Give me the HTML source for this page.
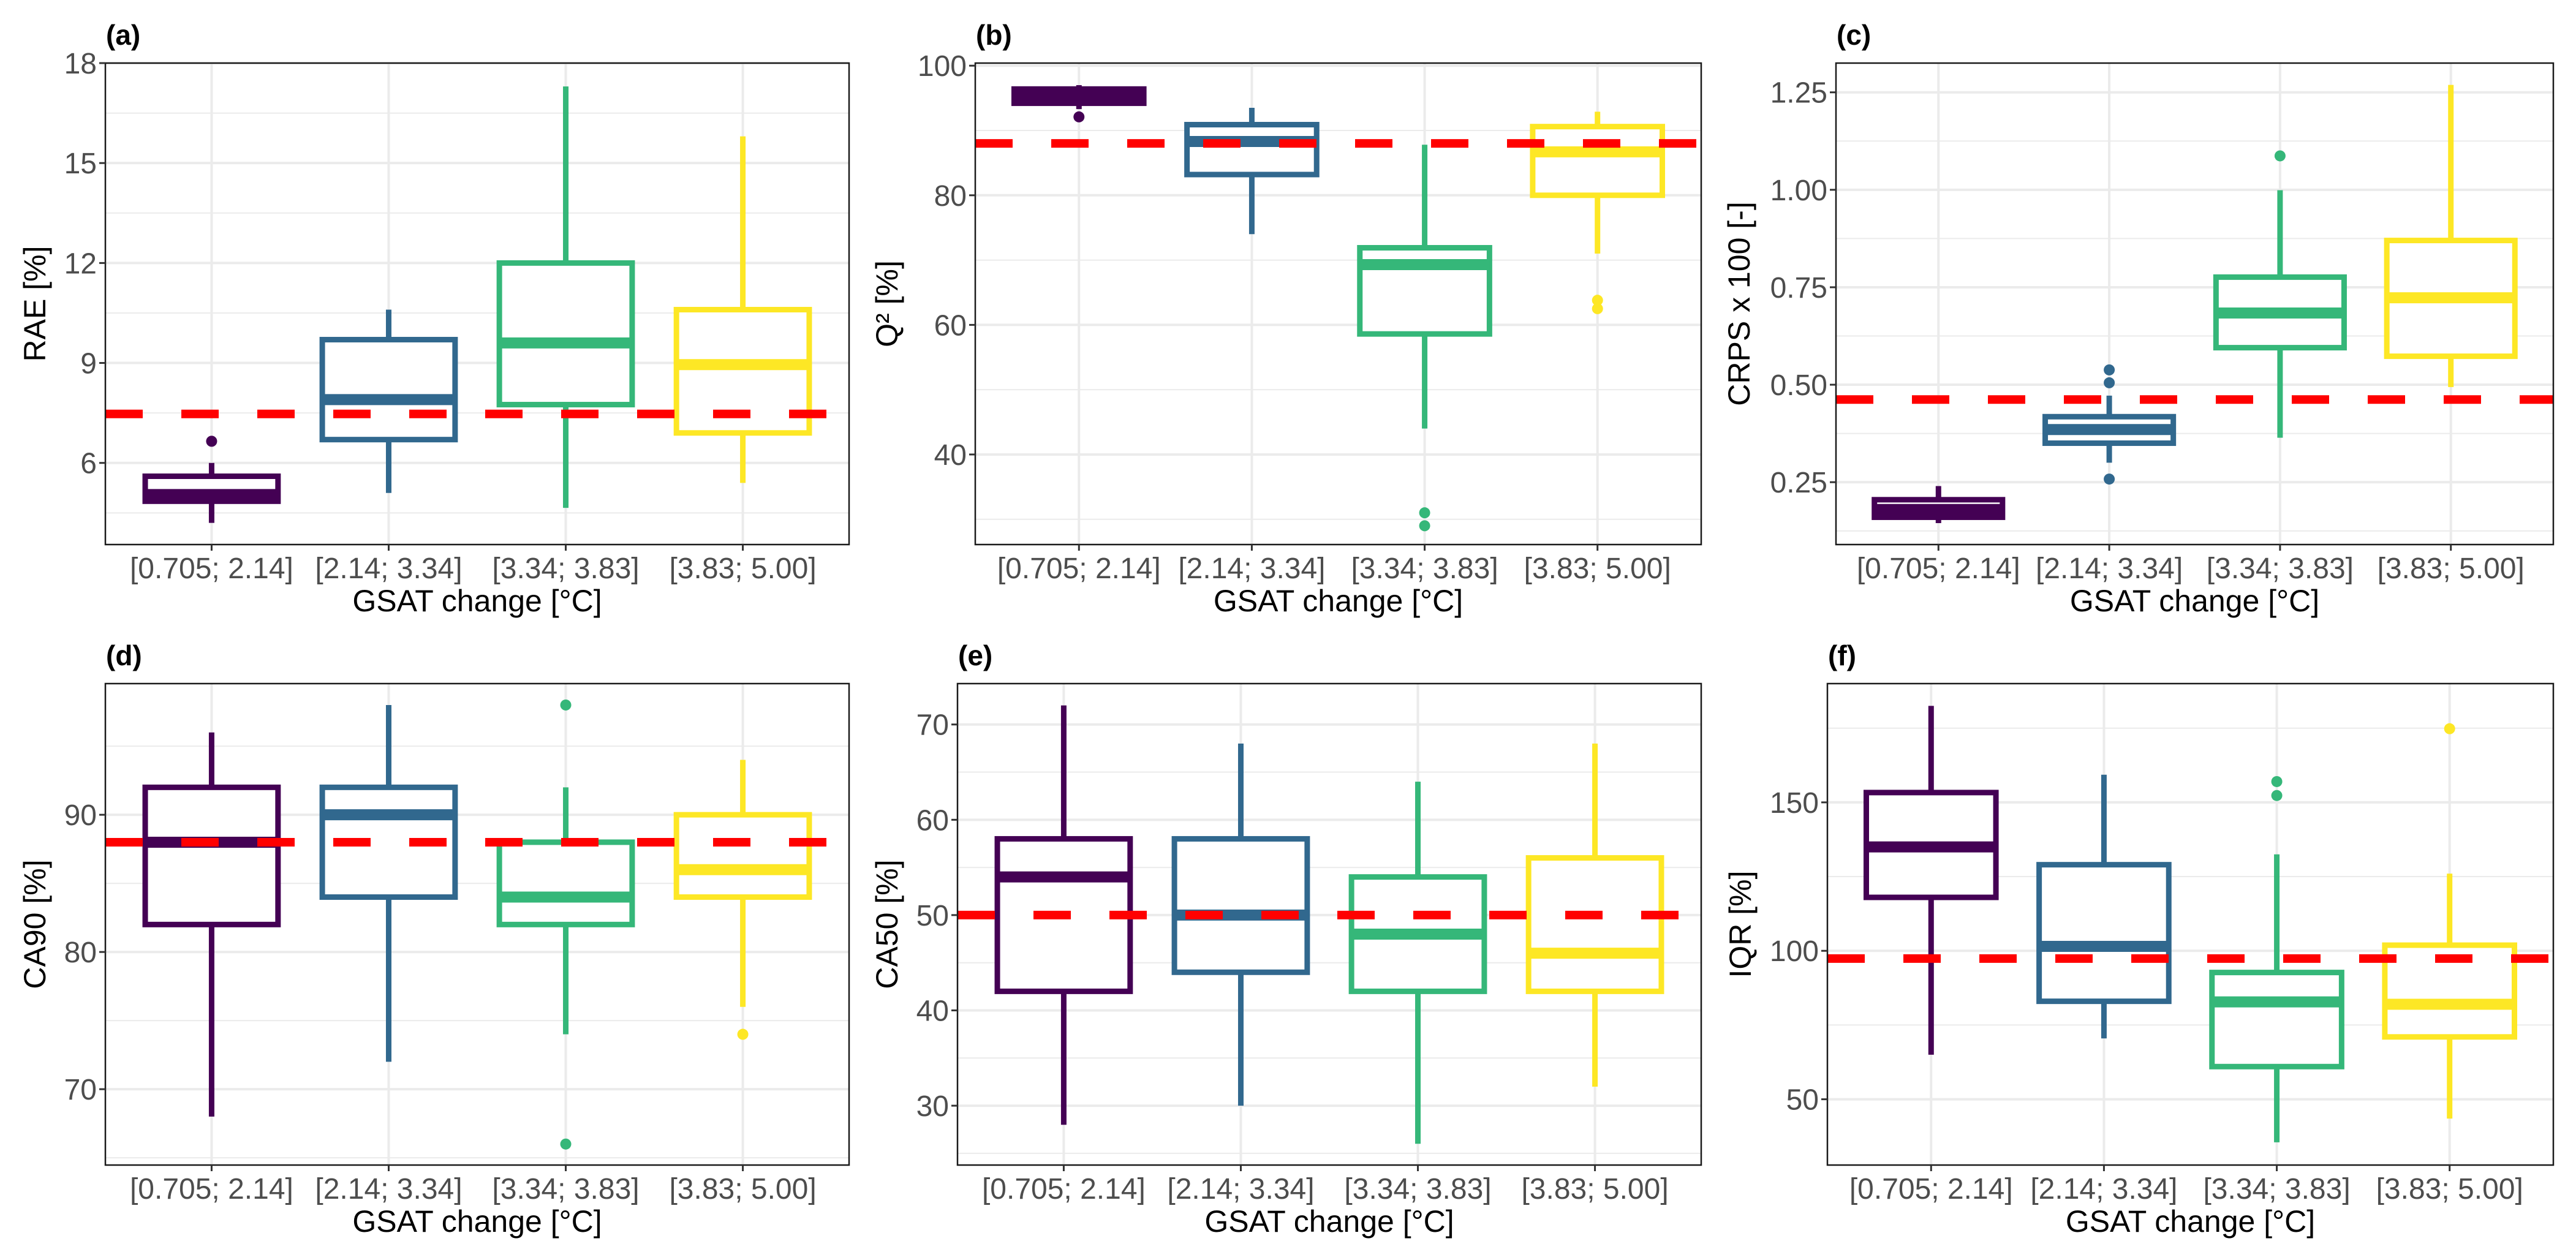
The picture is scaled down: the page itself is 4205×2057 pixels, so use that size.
<!DOCTYPE html>
<html><head><meta charset="utf-8"><style>
html,body{margin:0;padding:0;background:#fff;}
svg{display:block;font-family:"Liberation Sans",sans-serif;}
</style></head><body>
<svg id="fig" width="4205" height="2057" viewBox="0 0 4205 2057" xmlns="http://www.w3.org/2000/svg"></svg>
<script>
const categories = ["[0.705; 2.14]", "[2.14; 3.34]", "[3.34; 3.83]", "[3.83; 5.00]"];
const colors = ["#440154", "#31688E", "#35B779", "#FDE725"];

// Panel a: RAE
const aLow = [4.2, 5.1, 4.65, 5.4];
const aQ1 = [4.85, 6.7, 7.75, 6.9];
const aMed = [5.05, 7.9, 9.6, 8.95];
const aQ3 = [5.6, 9.7, 12.0, 10.6];
const aHigh = [6.0, 10.6, 17.3, 15.8];
const aOut = [[6.65], [], [], []];
const aRef = 7.47;
const aTicks = [6, 9, 12, 15, 18];
const aDomain = [3.55, 18.0];

// Panel b: Q2
const bLow = [93.3, 74, 44, 71];
const bQ1 = [94.2, 83.2, 58.6, 80];
const bMed = [95.4, 88.3, 69.3, 86.7];
const bQ3 = [96.4, 90.9, 71.9, 90.6];
const bHigh = [97, 93.5, 87.8, 92.9];
const bOut = [[92.1], [], [31.0, 29.0], [63.8, 62.5]];
const bRef = 88;
const bTicks = [40, 60, 80, 100];
const bDomain = [26.1, 100.4];

// Panel c: CRPS
const cLow = [0.145, 0.30, 0.364, 0.494];
const cQ1 = [0.16, 0.35, 0.595, 0.573];
const cMed = [0.18, 0.385, 0.684, 0.723];
const cQ3 = [0.205, 0.418, 0.776, 0.87];
const cHigh = [0.24, 0.472, 0.999, 1.269];
const cOut = [[], [0.538, 0.505, 0.258], [1.087], []];
const cRef = 0.462;
const cTicks = [0.25, 0.5, 0.75, 1.0, 1.25];
const cTickLabels = ["0.25", "0.50", "0.75", "1.00", "1.25"];
const cDomain = [0.09, 1.325];

// Panel d: CA90
const dLow = [68, 72, 74, 76];
const dQ1 = [82, 84, 82, 84];
const dMed = [88, 90, 84, 86];
const dQ3 = [92, 92, 88, 90];
const dHigh = [96, 98, 92, 94];
const dOut = [[], [], [98, 66], [74]];
const dRef = 88;
const dTicks = [70, 80, 90];
const dDomain = [64.47, 99.56];

// Panel e: CA50
const eLow = [28, 30, 26, 32];
const eQ1 = [42, 44, 42, 42];
const eMed = [54, 50, 48, 46];
const eQ3 = [58, 58, 54, 56];
const eHigh = [72, 68, 64, 68];
const eOut = [[], [], [], []];
const eRef = 50;
const eTicks = [30, 40, 50, 60, 70];
const eDomain = [23.77, 74.29];

// Panel f: IQR
const fLow = [65, 70.5, 35.5, 43.5];
const fQ1 = [118, 83, 61, 71];
const fMed = [135, 101.5, 82.8, 82];
const fQ3 = [153.3, 129, 92.7, 101.9];
const fHigh = [182.5, 159.3, 132.5, 126];
const fOut = [[], [], [157, 152.3], [174.8]];
const fRef = 97.4;
const fTicks = [50, 100, 150];
const fDomain = [27.84, 190];

const NS = "http://www.w3.org/2000/svg";
const svg = document.getElementById("fig");
function mk(tag, attrs, parent) {
  const e = document.createElementNS(NS, tag);
  for (const k in attrs) e.setAttribute(k, attrs[k]);
  (parent || svg).appendChild(e);
  return e;
}

function panel(cfg) {
  const g = mk("g", {});
  
  
  const L = cfg.left, R = cfg.right, T = cfg.top, B = cfg.bottom;
  const y = v => B - (v - cfg.domain[0]) / (cfg.domain[1] - cfg.domain[0]) * (B - T);
  const unit = (R - L) / 4.2;
  const x = i => L + (i + 0.6) * unit;

  const tag = mk("text", {x: L + 1, y: T - 30, "font-size": 46, "font-weight": "bold", fill: "#000"}, g);
  tag.textContent = "(" + cfg.id + ")";
  
  

  const grid = mk("g", {}, g);
  
  
  const step = cfg.ticks[1] - cfg.ticks[0];
  for (let k = -2; k <= cfg.ticks.length + 1; k++) {
    const v = cfg.ticks[0] + (k - 0.5) * step;
    if (v > cfg.domain[0] && v < cfg.domain[1])
      mk("line", {x1: L, x2: R, y1: y(v), y2: y(v), stroke: "#ebebeb", "stroke-width": 2}, grid);
  }
  cfg.ticks.forEach(v => {
    mk("line", {x1: L, x2: R, y1: y(v), y2: y(v), stroke: "#ebebeb", "stroke-width": 4}, grid);
  });
  categories.forEach((c, i) => {
    mk("line", {x1: x(i), x2: x(i), y1: T, y2: B, stroke: "#ebebeb", "stroke-width": 4}, grid);
  });

  const bw = 0.75 * unit;
  categories.forEach((c, i) => {
    const bg = mk("g", {}, g);
    
    
    const col = colors[i];
    mk("line", {x1: x(i), x2: x(i), y1: y(cfg.high[i]), y2: y(cfg.low[i]), stroke: col, "stroke-width": 9}, bg);
    mk("rect", {x: x(i) - bw / 2, y: y(cfg.q3[i]), width: bw, height: Math.max(0, y(cfg.q1[i]) - y(cfg.q3[i])), fill: "#fff", stroke: col, "stroke-width": 9}, bg);
    mk("line", {x1: x(i) - bw / 2, x2: x(i) + bw / 2, y1: y(cfg.med[i]), y2: y(cfg.med[i]), stroke: col, "stroke-width": 18}, bg);
    cfg.out[i].forEach(o => {
      const p = mk("circle", {cx: x(i), cy: y(o), r: 9, fill: col}, bg);
      
      
    });
  });

  const ref = mk("line", {x1: L, x2: R, y1: y(cfg.ref), y2: y(cfg.ref), stroke: "#ff0000", "stroke-width": 14, "stroke-dasharray": "61 63"}, g);
  
  

  mk("rect", {x: L, y: T, width: R - L, height: B - T, fill: "none", stroke: "#1a1a1a", "stroke-width": 2.5}, g);

  const yax = mk("g", {}, g);
  
  
  cfg.ticks.forEach((v, k) => {
    mk("line", {x1: L - 10, x2: L, y1: y(v), y2: y(v), stroke: "#333", "stroke-width": 3}, yax);
    const t = mk("text", {x: L - 14, y: y(v) + 17, "font-size": 48, fill: "#4d4d4d", "text-anchor": "end"}, yax);
    t.textContent = cfg.tickLabels ? cfg.tickLabels[k] : String(v);
  });
  const xax = mk("g", {}, g);
  
  
  categories.forEach((c, i) => {
    mk("line", {x1: x(i), x2: x(i), y1: B, y2: B + 10, stroke: "#333", "stroke-width": 3}, xax);
    const t = mk("text", {x: x(i), y: B + 55, "font-size": 48, fill: "#4d4d4d", "text-anchor": "middle"}, xax);
    t.textContent = c;
  });
  const xt = mk("text", {x: (L + R) / 2, y: B + 109, "font-size": 50, fill: "#000", "text-anchor": "middle"}, g);
  xt.textContent = "GSAT change [°C]";
  
  
  const yt = mk("text", {x: 0, y: 0, "font-size": 50, fill: "#000", "text-anchor": "middle", transform: "translate(" + (cfg.ytx + 18) + "," + ((T + B) / 2) + ") rotate(-90)"}, g);
  yt.textContent = cfg.ytitle;
  
  
}

const T1 = 103, B1 = 889, T2 = 1116, B2 = 1902;
panel({id: "a", left: 172, right: 1386, top: T1, bottom: B1, domain: aDomain, ticks: aTicks, low: aLow, q1: aQ1, med: aMed, q3: aQ3, high: aHigh, out: aOut, ref: aRef, ytitle: "RAE [%]", ytx: 56});
panel({id: "b", left: 1592, right: 2777, top: T1, bottom: B1, domain: bDomain, ticks: bTicks, low: bLow, q1: bQ1, med: bMed, q3: bQ3, high: bHigh, out: bOut, ref: bRef, ytitle: "Q² [%]", ytx: 1447});
panel({id: "c", left: 2997, right: 4168, top: T1, bottom: B1, domain: cDomain, ticks: cTicks, tickLabels: cTickLabels, low: cLow, q1: cQ1, med: cMed, q3: cQ3, high: cHigh, out: cOut, ref: cRef, ytitle: "CRPS x 100 [-]", ytx: 2838});
panel({id: "d", left: 172, right: 1386, top: T2, bottom: B2, domain: dDomain, ticks: dTicks, low: dLow, q1: dQ1, med: dMed, q3: dQ3, high: dHigh, out: dOut, ref: dRef, ytitle: "CA90 [%]", ytx: 56});
panel({id: "e", left: 1563, right: 2777, top: T2, bottom: B2, domain: eDomain, ticks: eTicks, low: eLow, q1: eQ1, med: eMed, q3: eQ3, high: eHigh, out: eOut, ref: eRef, ytitle: "CA50 [%]", ytx: 1447});
panel({id: "f", left: 2983, right: 4168, top: T2, bottom: B2, domain: fDomain, ticks: fTicks, low: fLow, q1: fQ1, med: fMed, q3: fQ3, high: fHigh, out: fOut, ref: fRef, ytitle: "IQR [%]", ytx: 2840});
</script>
</body></html>
